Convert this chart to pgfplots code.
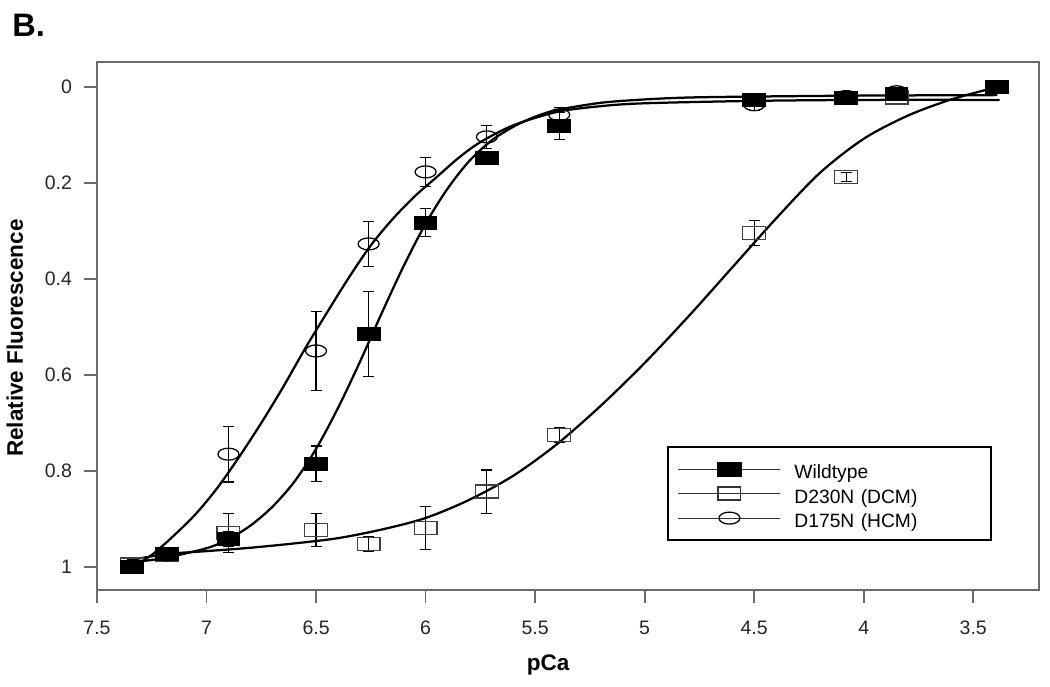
\documentclass[border=0pt]{standalone}
\usepackage{pgfplots}
\pgfplotsset{compat=1.18}
\usepackage{fontspec}
\setmainfont{Liberation Sans}

\definecolor{axgray}{HTML}{6A6A6A}

\pgfplotsset{
  legline/.style={legend image code/.code={
    \draw[black!80, line width=0.45pt] (0pt,0pt) -- (40.8pt,0pt);
    \draw[##1, mark repeat=2, mark phase=2] plot coordinates {(0pt,0pt) (20.4pt,0pt) (40.8pt,0pt)};
    \path (45.2pt,0pt);
  }},
  fit/.style={black, line width=0.9pt, smooth, no marks, forget plot},
  ebar/.style={error bars/.cd, y dir=both, y explicit,
    error bar style={black, line width=0.45pt},
    error mark options={rotate=90, mark size=2.2pt, black, line width=0.45pt}},
}

\begin{document}
\begin{tikzpicture}
\begin{axis}[
  scale only axis,
  width=376.8pt, height=211.2pt,
  x dir=reverse, y dir=reverse,
  xmin=3.2, xmax=7.5, ymin=-0.052, ymax=1.048,
  axis line style={axgray, line width=0.7pt},
  tick style={axgray, line width=0.7pt},
  tick align=outside, major tick length=5pt,
  xtick pos=bottom, ytick pos=left,
  xtick={3.5,4,4.5,5,5.5,6,6.5,7,7.5},
  xticklabels={3.5,4,4.5,5,5.5,6,6.5,7,7.5},
  ytick={0,0.2,0.4,0.6,0.8,1},
  yticklabels={0,0.2,0.4,0.6,0.8,1},
  /pgf/number format/assume math mode=true,
  ticklabel style={font=\fontsize{7.8}{9}\selectfont, text=black!85},
  xticklabel style={yshift=-4pt},
  yticklabel style={xshift=-1.5pt},
  xlabel={\textbf{pCa}},
  ylabel={\textbf{Relative Fluorescence}},
  label style={font=\fontsize{9}{11}\selectfont},
  xlabel style={at={(axis description cs:0.479,-0.142)}, anchor=center},
  ylabel style={at={(axis description cs:-0.0873,0.477)}, anchor=center},
  legend style={at={(axis description cs:0.605,0.273)}, anchor=north west,
    draw=black, line width=0.8pt, inner xsep=4pt, inner ysep=4pt,
    font=\fontsize{7.7}{9}\selectfont,
    nodes={inner sep=0.8pt, text height=8pt, text depth=0.2pt, text width=74pt}},
  legend cell align=left,
]

% legend entries
\addlegendimage{legline, only marks, mark=square*, mark size=2.6pt, mark options={xscale=1.75, fill=black, draw=black}}
\addlegendentry{Wildtype}
\addlegendimage{legline, only marks, mark=square, mark size=2.6pt, mark options={xscale=1.75, draw=black!80, line width=0.5pt}}
\addlegendentry{D230N (DCM)}
\addlegendimage{legline, only marks, mark=o, mark size=2.4pt, mark options={xscale=1.75, draw=black, line width=0.5pt}}
\addlegendentry{D175N (HCM)}

% fitted curves
\addplot[fit] coordinates {
  (7.34,0.990) (7.2,0.982) (7.0,0.961) (6.9,0.942) (6.8,0.914) (6.7,0.875)
  (6.6,0.823) (6.5,0.754) (6.4,0.669) (6.3,0.573) (6.2,0.471) (6.1,0.373)
  (6.0,0.285) (5.9,0.212) (5.8,0.154) (5.7,0.112) (5.6,0.083) (5.5,0.062)
  (5.4,0.048) (5.2,0.033) (5.0,0.026) (4.8,0.022) (4.5,0.020) (4.0,0.018)
  (3.39,0.017)
};
\addplot[fit] coordinates {
  (7.34,1.0) (7.25,0.975) (7.15,0.935) (7.05,0.89) (6.95,0.835) (6.85,0.77)
  (6.75,0.70) (6.65,0.625) (6.55,0.545) (6.45,0.47) (6.35,0.397) (6.25,0.33)
  (6.15,0.275) (6.05,0.228) (5.95,0.188) (5.85,0.148) (5.75,0.115) (5.6,0.08)
  (5.4,0.052) (5.2,0.040) (5.0,0.034) (4.5,0.029) (4.0,0.027) (3.38,0.027)
};
\addplot[fit] coordinates {
  (7.34,0.985) (7.18,0.973) (7.0,0.967) (6.8,0.960) (6.6,0.951) (6.4,0.940)
  (6.2,0.922) (6.0,0.898) (5.8,0.860) (5.6,0.810) (5.4,0.744) (5.2,0.664)
  (5.0,0.575) (4.8,0.478) (4.6,0.376) (4.4,0.274) (4.2,0.179) (4.0,0.108)
  (3.8,0.060) (3.6,0.026) (3.39,0.0)
};

% D230N (DCM)
\addplot[forget plot, only marks, mark=square, mark size=2.6pt,
  mark options={xscale=1.75, draw=black!75, line width=0.5pt, fill=white}, ebar]
coordinates {
  (7.34,0.995) +- (0,0.010)
  (7.18,0.975) +- (0,0.010)
  (6.9,0.929) +- (0,0.040)
  (6.5,0.923) +- (0,0.035)
  (6.26,0.952) +- (0,0.015)
  (6.0,0.919) +- (0,0.045)
  (5.72,0.843) +- (0,0.045)
  (5.39,0.725) +- (0,0.015)
  (4.5,0.304) +- (0,0.026)
  (4.08,0.1875) +- (0,0.010)
  (3.85,0.022) +- (0,0.005)
  (3.39,0.0) +- (0,0.005)
};

% D175N (HCM)
\addplot[forget plot, only marks, mark=o, mark size=2.4pt,
  mark options={xscale=1.75, draw=black, line width=0.5pt, fill=white}, ebar]
coordinates {
  (7.34,1.0) +- (0,0.008)
  (7.18,0.975) +- (0,0.008)
  (6.9,0.765) +- (0,0.058)
  (6.5,0.55) +- (0,0.083)
  (6.26,0.327) +- (0,0.047)
  (6.0,0.177) +- (0,0.030)
  (5.72,0.104) +- (0,0.024)
  (5.39,0.058) +- (0,0.015)
  (4.5,0.037) +- (0,0.012)
  (4.08,0.020) +- (0,0.005)
  (3.85,0.010) +- (0,0.005)
};

% Wildtype
\addplot[forget plot, only marks, mark=square*, mark size=2.6pt,
  mark options={xscale=1.75, draw=black, fill=black}, ebar]
coordinates {
  (7.34,1.0) +- (0,0.010)
  (7.18,0.972) +- (0,0.008)
  (6.9,0.942) +- (0,0.015)
  (6.5,0.785) +- (0,0.037)
  (6.26,0.515) +- (0,0.088)
  (6.0,0.283) +- (0,0.029)
  (5.72,0.148) +- (0,0.012)
  (5.39,0.081) +- (0,0.028)
  (4.5,0.027) +- (0,0.010)
  (4.08,0.023) +- (0,0.005)
  (3.85,0.015) +- (0,0.005)
  (3.39,0.0) +- (0,0.003)
};

\end{axis}
\node[anchor=base west, font=\fontsize{13}{15}\selectfont\bfseries, inner sep=0pt]
  at ([xshift=-34pt, yshift=10pt]current axis.north west) {B.};
\pgfresetboundingbox
\path[use as bounding box] ([xshift=-38.8pt, yshift=-38.8pt]current axis.south west)
  rectangle ([xshift=4.4pt, yshift=24.8pt]current axis.north east);
\end{tikzpicture}
\end{document}
